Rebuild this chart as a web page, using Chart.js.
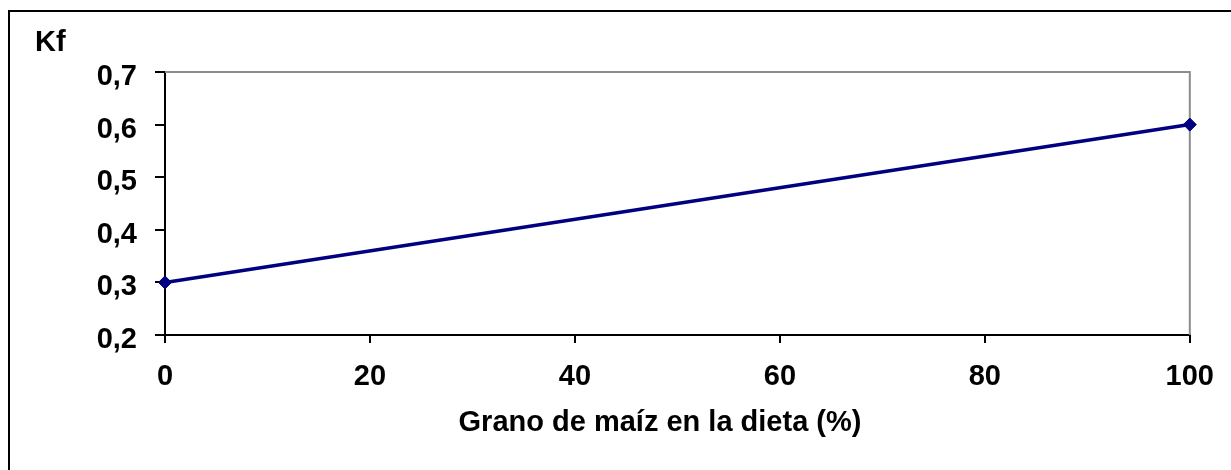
<!DOCTYPE html>
<html>
<head>
<meta charset="utf-8">
<script src="https://cdn.jsdelivr.net/npm/chart.js@4/dist/chart.umd.min.js"></script>
<style>
  html, body { margin: 0; padding: 0; background: #fff; overflow: hidden; }
  canvas { display: block; }
</style>
</head>
<body>
<canvas id="c" width="1231" height="470"></canvas>
<script>
// ---- data ----
const xValues = [0, 100];
const kfValues = [0.3, 0.6];
const xTicks = [0, 20, 40, 60, 80, 100];
const xTickLabels = ['0', '20', '40', '60', '80', '100'];
const yTicks = [0.2, 0.3, 0.4, 0.5, 0.6, 0.7];
const yTickLabels = ['0,2', '0,3', '0,4', '0,5', '0,6', '0,7'];
const yAxisTitle = 'Kf';
const xAxisTitle = 'Grano de maíz en la dieta (%)';

const FONT = "'Liberation Sans', Arial, sans-serif";

const points = xValues.map((x, i) => ({ x: x, y: kfValues[i] }));

function labelFor(value, ticks, labels) {
  for (let i = 0; i < ticks.length; i++) {
    if (Math.abs(ticks[i] - value) < 1e-9) return labels[i];
  }
  return '';
}

const decor = {
  id: 'decor',
  beforeDraw(chart) {
    const ctx = chart.ctx;
    ctx.save();
    ctx.fillStyle = '#fff';
    ctx.fillRect(0, 0, chart.width, chart.height);
    ctx.fillStyle = '#000';
    ctx.fillRect(9, 10, chart.width - 9, 2);
    ctx.fillRect(8, 10, 2, chart.height - 10);
    ctx.restore();
  },
  beforeDatasetsDraw(chart) {
    const { ctx, chartArea: a } = chart;
    ctx.save();
    ctx.strokeStyle = '#8c8c8c';
    ctx.lineWidth = 2;
    ctx.beginPath();
    ctx.moveTo(a.left, a.top);
    ctx.lineTo(a.right, a.top);
    ctx.lineTo(a.right, a.bottom);
    ctx.stroke();
    ctx.restore();
  },
  afterDraw(chart) {
    const ctx = chart.ctx;
    ctx.save();
    ctx.fillStyle = '#000';
    ctx.font = 'bold 29px ' + FONT;
    ctx.textBaseline = 'alphabetic';
    ctx.textAlign = 'left';
    ctx.fillText(yAxisTitle, 35, 51);
    ctx.textAlign = 'center';
    ctx.fillText(xAxisTitle, 660, 431);
    ctx.restore();
  }
};

new Chart(document.getElementById('c'), {
  type: 'line',
  data: {
    datasets: [{
      data: points,
      borderColor: '#000080',
      backgroundColor: '#000080',
      borderWidth: 3.5,
      pointStyle: 'rectRot',
      pointRadius: 6.5,
      pointBorderWidth: 1,
      pointBorderColor: '#000080',
      pointBackgroundColor: '#000080',
      tension: 0,
      clip: false,
      fill: false
    }]
  },
  options: {
    responsive: false,
    animation: false,
    devicePixelRatio: 1,
    layout: { padding: { left: 0, top: 72, right: 40, bottom: 0 } },
    plugins: { legend: { display: false }, tooltip: { enabled: false }, title: { display: false } },
    scales: {
      x: {
        type: 'linear',
        position: 'bottom',
        min: 0,
        max: 100,
        afterFit(scale) { scale.height = 135; },
        afterBuildTicks(scale) { scale.ticks = xTicks.map(v => ({ value: v })); },
        border: { display: true, color: '#000', width: 2 },
        grid: { drawOnChartArea: false, drawTicks: true, tickLength: 8, color: '#000', lineWidth: 2 },
        ticks: {
          color: '#000',
          font: { family: FONT, size: 29, weight: 'bold' },
          padding: 17,
          maxRotation: 0,
          autoSkip: false,
          callback: (v) => labelFor(v, xTicks, xTickLabels)
        }
      },
      y: {
        type: 'linear',
        min: 0.2,
        max: 0.7,
        afterFit(scale) { scale.width = 165; },
        afterBuildTicks(scale) { scale.ticks = yTicks.map(v => ({ value: v })); },
        border: { display: true, color: '#000', width: 2 },
        grid: { drawOnChartArea: false, drawTicks: true, tickLength: 10, color: '#000', lineWidth: 2 },
        ticks: {
          color: '#000',
          font: { family: FONT, size: 29, weight: 'bold' },
          padding: 18,
          labelOffset: 5,
          autoSkip: false,
          callback: (v) => labelFor(v, yTicks, yTickLabels)
        }
      }
    }
  },
  plugins: [decor]
});
</script>
</body>
</html>
